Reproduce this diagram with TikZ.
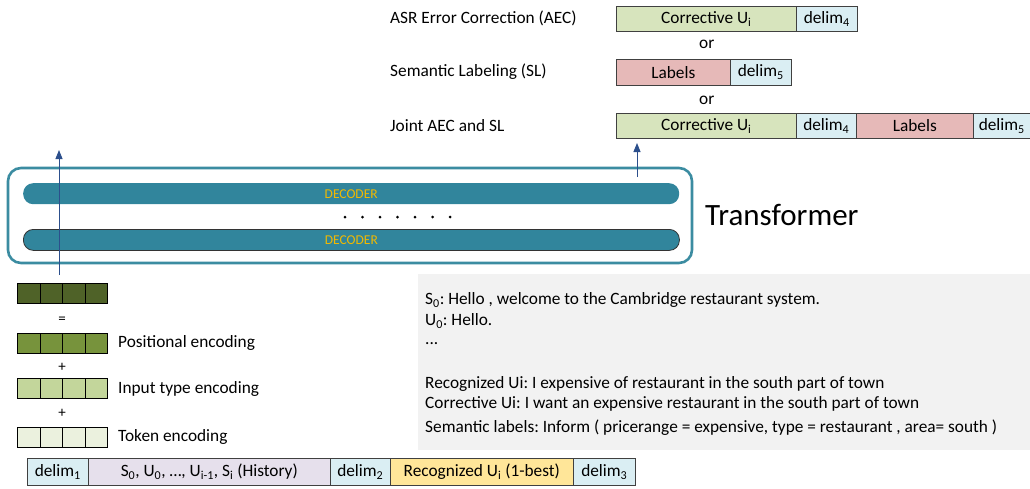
\documentclass[tikz,border=0pt]{standalone}
\usepackage{fontspec}
\setmainfont{Carlito}
\usetikzlibrary{arrows.meta}
\definecolor{teal1}{HTML}{31859C}
\definecolor{tealb}{HTML}{3B8CA1}
\definecolor{gold1}{HTML}{F2B900}
\definecolor{delimc}{HTML}{DAEEF3}
\definecolor{corrc}{HTML}{D7E4BD}
\definecolor{labc}{HTML}{E6B9B8}
\definecolor{histc}{HTML}{E6E0EC}
\definecolor{recc}{HTML}{FFE699}
\definecolor{enc1}{HTML}{4F6228}
\definecolor{enc2}{HTML}{77933C}
\definecolor{enc3}{HTML}{C3D69B}
\definecolor{enc4}{HTML}{EBF1DE}
\definecolor{panelc}{HTML}{F2F2F2}
\definecolor{arrc}{HTML}{2C4F8C}
\tikzset{
  cell/.style={draw=black!75, line width=0.6pt, inner sep=0pt, anchor=north west, font=\fontsize{17.3}{19}\selectfont},
  enccell/.style={draw=black, line width=0.8pt, inner sep=0pt, anchor=north west, minimum width=22.5pt, minimum height=20pt},
  lbl/.style={anchor=west, inner sep=0pt, font=\fontsize{17.3}{19}\selectfont},
  ptxt/.style={anchor=west, inner sep=0pt, font=\fontsize{17.3}{19}\selectfont},
  dec/.style={fill=teal1, rounded corners=10pt, inner sep=0pt, anchor=north west, minimum width=656pt, minimum height=21pt, text=gold1, font=\fontsize{13.5}{14}\selectfont},
  arr/.style={draw=arrc, line width=0.9pt, -{Triangle[length=9pt,width=7pt]}},
}
\frenchspacing
\begin{document}
\begin{tikzpicture}[x=1pt,y=-1pt]
\useasboundingbox (0,0) rectangle (1030,488);
% output rows
\node[lbl] (laec) at (390,18) {ASR Error Correction (AEC)};
\node[cell, fill=corrc, minimum width=180pt, minimum height=25pt] (c1) at (616,6) {Corrective U\textsubscript{i}};
\node[cell, fill=delimc, minimum width=61pt, minimum height=25pt] (d41) at (796,6) {delim\textsubscript{4}};
\node[lbl] (or1) at (699,44) {or};
\node[lbl] (lsl) at (390,72) {Semantic Labeling (SL)};
\node[cell, fill=labc, minimum width=114pt, minimum height=26pt] (l2) at (616,59) {Labels};
\node[cell, fill=delimc, minimum width=61pt, minimum height=26pt] (d52) at (730,59) {delim\textsubscript{5}};
\node[lbl] (or2) at (699,100) {or};
\node[lbl] (ljoint) at (390,126) {Joint AEC and SL};
\node[cell, fill=corrc, minimum width=180pt, minimum height=25pt] (c3) at (616,113) {Corrective U\textsubscript{i}};
\node[cell, fill=delimc, minimum width=60pt, minimum height=25pt] (d43) at (796,113) {delim\textsubscript{4}};
\node[cell, fill=labc, minimum width=117pt, minimum height=25pt] (l3) at (856,113) {Labels};
\node[cell, fill=delimc, minimum width=57pt, minimum height=25pt] (d53) at (973,113) {delim\textsubscript{5}};
% transformer
\draw[tealb, line width=2.6pt, rounded corners=13pt] (8,168) rectangle (692,263);
\node[inner sep=0pt, minimum width=684pt, minimum height=95pt, anchor=north west] (tf) at (8,168) {};
\node[dec] (dec1) at (23,183) {DECODER};
\node[dec, draw=black!80, line width=0.8pt] (dec2) at (23,229) {DECODER};
\foreach \i in {0,...,6} \fill (345+17.5*\i,217) circle (1.5pt);
\node[anchor=west, inner sep=0pt, font=\fontsize{31}{34}\selectfont] (tname) at (705,215) {Transformer};
% encodings
\foreach \r/\y/\c in {e0/283/enc1, e1/333/enc2, e2/378/enc3, e3/427/enc4}{
  \foreach \k in {0,...,3}{
    \node[enccell, fill=\c] (\r\k) at (17+22.5*\k,\y) {};
  }
}
\node[inner sep=0pt, font=\fontsize{15}{16}\selectfont] (eq) at (62,320) {=};
\node[inner sep=0pt, font=\fontsize{15}{16}\selectfont] (p1) at (62,367) {+};
\node[inner sep=0pt, font=\fontsize{15}{16}\selectfont] (p2) at (62,413) {+};
\node[lbl] (lpos) at (118,343) {Positional encoding};
\node[lbl] (ltype) at (118,389) {Input type encoding};
\node[lbl] (ltok) at (118,437) {Token encoding};
% input row
\node[cell, fill=delimc, minimum width=61pt, minimum height=27pt] (d1) at (27,458) {delim\textsubscript{1}};
\node[cell, fill=histc, minimum width=242pt, minimum height=27pt] (hist) at (88,458) {S\textsubscript{0}, U\textsubscript{0}, \dots, U\textsubscript{i-1}, S\textsubscript{i} (History)};
\node[cell, fill=delimc, minimum width=60pt, minimum height=27pt] (d2) at (330,458) {delim\textsubscript{2}};
\node[cell, fill=recc, minimum width=183pt, minimum height=27pt] (rec) at (390,458) {Recognized U\textsubscript{i} (1-best)};
\node[cell, fill=delimc, minimum width=62pt, minimum height=27pt] (d3) at (573,458) {delim\textsubscript{3}};
% example panel
\fill[panelc] (418,274) rectangle (1030,450);
\node[ptxt] (s0) at (425,300) {S\textsubscript{0}: Hello , welcome to the Cambridge restaurant system.};
\node[ptxt] (u0) at (425,321) {U\textsubscript{0}: Hello.};
\node[ptxt] (dots) at (425,344) {...};
\node[ptxt] (recu) at (425,384) {Recognized Ui: I expensive of restaurant in the south part of town};
\node[ptxt] (coru) at (425,404) {Corrective Ui: I want an expensive restaurant in the south part of town};
\node[ptxt] (seml) at (425,428) {Semantic labels: Inform ( pricerange = expensive, type = restaurant , area= south )};
% arrows
\coordinate (la1) at (59,275);
\coordinate (la2) at (59,150);
\coordinate (ra1) at (637,177);
\coordinate (ra2) at (637,143);
\draw[arr] (la1) -- (la2);
\draw[arr] (ra1) -- (ra2);
\end{tikzpicture}
\end{document}
